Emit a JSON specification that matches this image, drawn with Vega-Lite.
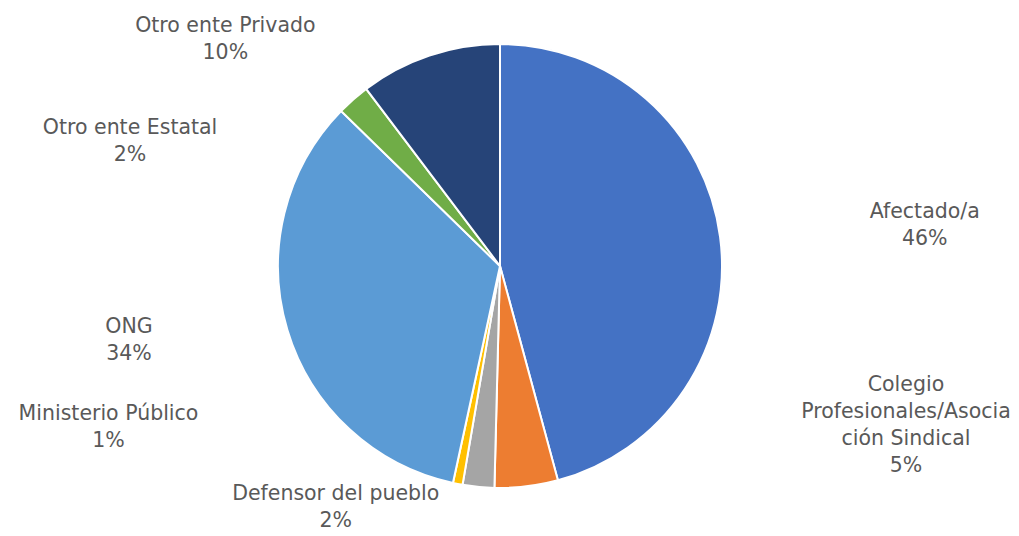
{
  "$schema": "https://vega.github.io/schema/vega-lite/v6.json",
  "width": 1000,
  "height": 532,
  "autosize": "none",
  "padding": {"left": 0, "right": 19, "top": 0, "bottom": 4},
  "background": "white",
  "view": {"stroke": null},
  "data": {
    "values": [
      {"cat": "Afectado/a", "value": 45.8, "ord": 1, "label": "Afectado/a\n46%"},
      {"cat": "Colegio Profesionales/Asociación Sindical", "value": 4.6, "ord": 2, "label": "Colegio\nProfesionales/Asocia\nción Sindical\n5%"},
      {"cat": "Defensor del pueblo", "value": 2.3, "ord": 3, "label": "Defensor del pueblo\n2%"},
      {"cat": "Ministerio Público", "value": 0.7, "ord": 4, "label": "Ministerio Público\n1%"},
      {"cat": "ONG", "value": 33.9, "ord": 5, "label": "ONG\n34%"},
      {"cat": "Otro ente Estatal", "value": 2.4, "ord": 6, "label": "Otro ente Estatal\n2%"},
      {"cat": "Otro ente Privado", "value": 10.3, "ord": 7, "label": "Otro ente Privado\n10%"}
    ]
  },
  "encoding": {
    "theta": {"field": "value", "type": "quantitative", "stack": true},
    "order": {"field": "ord", "type": "quantitative"}
  },
  "layer": [
    {
      "mark": {"type": "arc", "outerRadius": 222, "stroke": "white", "strokeWidth": 2},
      "encoding": {
        "color": {
          "field": "cat",
          "type": "nominal",
          "scale": {
            "domain": ["Afectado/a", "Colegio Profesionales/Asociación Sindical", "Defensor del pueblo", "Ministerio Público", "ONG", "Otro ente Estatal", "Otro ente Privado"],
            "range": ["#4472C4", "#ED7D31", "#A5A5A5", "#FFC000", "#5B9BD5", "#70AD47", "#264478"]
          },
          "legend": null
        }
      }
    },
    {
      "mark": {"type": "text", "radius": 260, "dx": 167, "dy": -19.5, "font": "DejaVu Sans", "fontSize": 20.5, "fill": "#595959", "lineHeight": 27, "lineBreak": "\n", "align": "center", "baseline": "middle"},
      "encoding": {"text": {"condition": {"test": "datum.ord === 1", "field": "label", "type": "nominal"}, "value": ""}}
    },
    {
      "mark": {"type": "text", "radius": 260, "dx": 375, "dy": -139.5, "font": "DejaVu Sans", "fontSize": 20.5, "fill": "#595959", "lineHeight": 27, "lineBreak": "\n", "align": "center", "baseline": "middle"},
      "encoding": {"text": {"condition": {"test": "datum.ord === 2", "field": "label", "type": "nominal"}, "value": ""}}
    },
    {
      "mark": {"type": "text", "radius": 260, "dx": -139, "dy": -30.5, "font": "DejaVu Sans", "fontSize": 20.5, "fill": "#595959", "lineHeight": 27, "lineBreak": "\n", "align": "center", "baseline": "middle"},
      "encoding": {"text": {"condition": {"test": "datum.ord === 3", "field": "label", "type": "nominal"}, "value": ""}}
    },
    {
      "mark": {"type": "text", "radius": 260, "dx": -342, "dy": -107.5, "font": "DejaVu Sans", "fontSize": 20.5, "fill": "#595959", "lineHeight": 27, "lineBreak": "\n", "align": "center", "baseline": "middle"},
      "encoding": {"text": {"condition": {"test": "datum.ord === 4", "field": "label", "type": "nominal"}, "value": ""}}
    },
    {
      "mark": {"type": "text", "radius": 260, "dx": -122, "dy": -13.5, "font": "DejaVu Sans", "fontSize": 20.5, "fill": "#595959", "lineHeight": 27, "lineBreak": "\n", "align": "center", "baseline": "middle"},
      "encoding": {"text": {"condition": {"test": "datum.ord === 5", "field": "label", "type": "nominal"}, "value": ""}}
    },
    {
      "mark": {"type": "text", "radius": 260, "dx": -198, "dy": 57.5, "font": "DejaVu Sans", "fontSize": 20.5, "fill": "#595959", "lineHeight": 27, "lineBreak": "\n", "align": "center", "baseline": "middle"},
      "encoding": {"text": {"condition": {"test": "datum.ord === 6", "field": "label", "type": "nominal"}, "value": ""}}
    },
    {
      "mark": {"type": "text", "radius": 260, "dx": -192, "dy": 6.5, "font": "DejaVu Sans", "fontSize": 20.5, "fill": "#595959", "lineHeight": 27, "lineBreak": "\n", "align": "center", "baseline": "middle"},
      "encoding": {"text": {"condition": {"test": "datum.ord === 7", "field": "label", "type": "nominal"}, "value": ""}}
    }
  ]
}
